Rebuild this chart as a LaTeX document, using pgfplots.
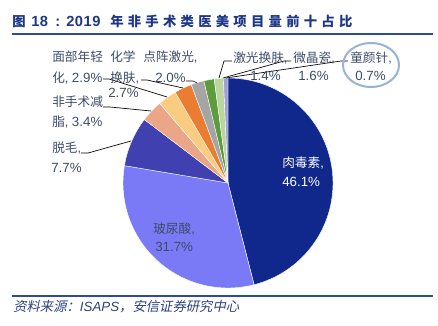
\documentclass[border=0pt]{standalone}
\usepackage{pgfplots}
\pgfplotsset{compat=1.18}
\usepackage{fontspec}
\setmainfont{Liberation Sans}
\newfontfamily\cjk{Noto Sans CJK SC}
\newfontfamily\cjksl{Noto Sans CJK SC}[FakeSlant=0.2]
\definecolor{titleblue}{RGB}{30,55,135}
\definecolor{lineblue}{RGB}{45,75,155}
\definecolor{srcblue}{RGB}{45,65,130}
\definecolor{lbl}{RGB}{62,76,104}
\definecolor{ringblue}{RGB}{150,180,215}
\definecolor{cA}{RGB}{16,40,140}
\definecolor{cB}{RGB}{122,122,246}
\definecolor{cC}{RGB}{64,64,176}
\definecolor{cD}{RGB}{234,166,134}
\definecolor{cE}{RGB}{249,204,130}
\definecolor{cF}{RGB}{234,125,49}
\definecolor{cG}{RGB}{165,165,165}
\definecolor{cH}{RGB}{94,155,60}
\definecolor{cI}{RGB}{186,214,158}
\definecolor{cJ}{RGB}{160,160,210}
\tikzset{lab/.style={anchor=west, inner sep=0, text=lbl, font=\fontsize{9.5}{11}\selectfont},
  ldr/.style={black, line width=0.5pt}}
% slice: colour, cumulative start (%), cumulative end (%); total = 100.2
\newcommand{\slice}[3]{%
  \fill[#1, draw=white, line width=0.3pt] (axis cs:228,183) -- ++({90-3.5928*#2}:78.75pt)
    arc[start angle={90-3.5928*#2}, end angle={90-3.5928*#3}, radius=78.75pt] -- cycle;}
\begin{document}
\begin{tikzpicture}
\begin{axis}[hide axis, scale only axis, x=0.75pt, y=0.75pt,
  xmin=0, xmax=438, ymin=0, ymax=325, y dir=reverse, clip=false]
\path (axis cs:0,0) rectangle (axis cs:438,325);
% title
\node[anchor=base west, inner sep=0, text=titleblue] at (axis cs:12,26) {\fontsize{10}{11}\selectfont\cjk\bfseries 图};
\node[anchor=base west, inner sep=0, text=titleblue] at (axis cs:31,26) {\fontsize{11}{12}\selectfont\bfseries\addfontfeature{LetterSpace=4}18};
\node[anchor=base west, inner sep=0, text=titleblue] at (axis cs:55,26) {\fontsize{11}{12}\selectfont\bfseries :};
\node[anchor=base west, inner sep=0, text=titleblue] at (axis cs:66,26) {\fontsize{11}{12}\selectfont\bfseries\addfontfeature{LetterSpace=4}2019};
\node[anchor=base west, inner sep=0, text=titleblue] at (axis cs:110,26) {\fontsize{10}{11}\selectfont\cjk\bfseries\addfontfeature{LetterSpace=32}年非手术类医美项目量前十占比};
\draw[lineblue, line width=1pt] (axis cs:12,34) -- (axis cs:433,34);
% pie (clockwise from 12 o'clock)
\slice{cA}{0}{46.1}
\slice{cB}{46.1}{77.8}
\slice{cC}{77.8}{85.5}
\slice{cD}{85.5}{88.9}
\slice{cE}{88.9}{91.8}
\slice{cF}{91.8}{94.5}
\slice{cG}{94.5}{96.5}
\slice{cH}{96.5}{98.1}
\slice{cI}{98.1}{99.5}
\slice{cJ}{99.5}{100.2}
% leader lines
\draw[ldr] (axis cs:103,79) -- (axis cs:109,79) -- (axis cs:167,97);
\draw[ldr] (axis cs:141,80) -- (axis cs:147,80) -- (axis cs:183,88);
\draw[ldr] (axis cs:186,81) -- (axis cs:193,81) -- (axis cs:197,83);
\draw[ldr] (axis cs:103,107) -- (axis cs:110,107) -- (axis cs:151,111);
\draw[ldr] (axis cs:81,153) -- (axis cs:88,153) -- (axis cs:131,141);
\draw[ldr] (axis cs:232,61) -- (axis cs:224,61) -- (axis cs:219,78);
\draw[ldr] (axis cs:291,61) -- (axis cs:284,61) -- (axis cs:223,78);
\draw[ldr] (axis cs:348,61) -- (axis cs:341,61) -- (axis cs:226,78);
% labels
\node[lab] at (axis cs:52,57) {\cjk 面部年轻};
\node[lab] at (axis cs:52,78) {{\cjk 化}, {\fontsize{10}{11}\selectfont 2.9\%}};
\node[lab] at (axis cs:110,57) {\cjk 化学};
\node[lab] at (axis cs:110,78) {{\cjk 换肤},};
\node[lab] at (axis cs:108,93) {\fontsize{10}{11}\selectfont 2.7\%};
\node[lab] at (axis cs:143,57) {{\cjk 点阵激光},};
\node[lab] at (axis cs:155,78) {\fontsize{10}{11}\selectfont 2.0\%};
\node[lab] at (axis cs:52,102) {\cjk 非手术减};
\node[lab] at (axis cs:52,122) {{\cjk 脂}, {\fontsize{10}{11}\selectfont 3.4\%}};
\node[lab] at (axis cs:52,148) {{\cjk 脱毛},};
\node[lab] at (axis cs:51,168) {\fontsize{10}{11}\selectfont 7.7\%};
\node[lab] at (axis cs:233,58) {{\cjk 激光换肤},};
\node[lab] at (axis cs:250,76) {\fontsize{10}{11}\selectfont 1.4\%};
\node[lab] at (axis cs:293,58) {{\cjk 微晶瓷},};
\node[lab] at (axis cs:298,76) {\fontsize{10}{11}\selectfont 1.6\%};
\node[lab] at (axis cs:350,58) {{\cjk 童颜针},};
\node[lab] at (axis cs:355,76) {\fontsize{10}{11}\selectfont 0.7\%};
\node[lab, text=white] at (axis cs:282,163) {{\cjk 肉毒素},};
\node[lab, text=white] at (axis cs:282,182) {\fontsize{10}{11}\selectfont 46.1\%};
\node[lab] at (axis cs:153,229) {{\cjk 玻尿酸},};
\node[lab] at (axis cs:155,247) {\fontsize{10}{11}\selectfont 31.7\%};
% highlight ring
\draw[ringblue, line width=1.5pt] (axis cs:371,65) ellipse [x radius=21pt, y radius=16.5pt];
% bottom rule and source
\draw[lineblue, line width=0.8pt] (axis cs:12,296) -- (axis cs:433,296);
\node[anchor=west, inner sep=0, text=srcblue] at (axis cs:13,307) {\fontsize{10}{12}\selectfont{\cjksl 资料来源：}{\itshape ISAPS}{\cjksl ，安信证券研究中心}};
\end{axis}
\end{tikzpicture}
\end{document}
